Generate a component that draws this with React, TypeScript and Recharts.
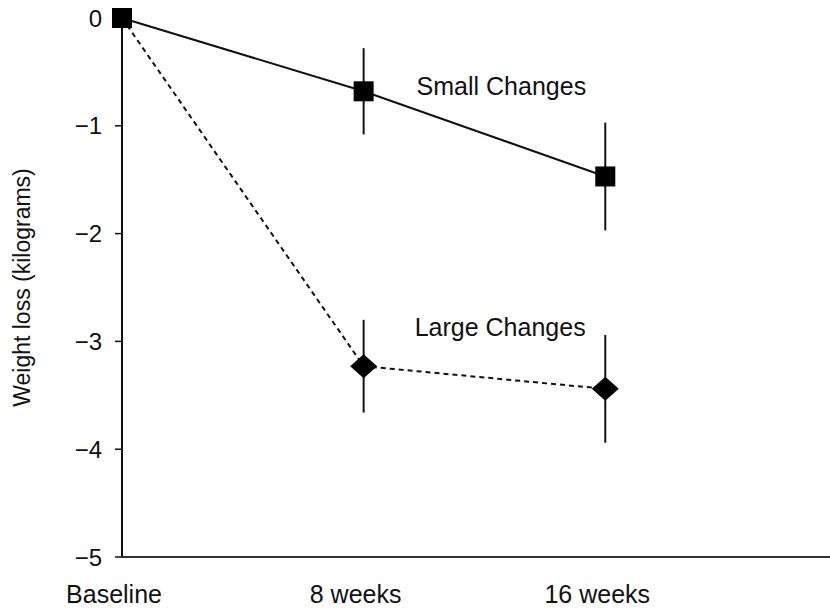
import React from "react";
import {
  LineChart,
  Line,
  XAxis,
  YAxis,
  ErrorBar,
  ReferenceDot,
} from "recharts";

// time points
const categories = ["Baseline", "8 weeks", "16 weeks"];

// mean weight change (kg) and error half-widths
const smallChanges = [0, -0.68, -1.47];
const smallErr = [0, 0.4, 0.5];
const largeChanges = [0, -3.23, -3.44];
const largeErr = [0, 0.43, 0.5];

const yTicks = [0, -1, -2, -3, -4, -5];

// text annotations next to the lines
const notes = [
  { text: "Small Changes", x: 1.57, y: -0.635 },
  { text: "Large Changes", x: 1.565, y: -2.87 },
];

const data = categories.map((name, i) => ({
  x: i,
  name,
  small: smallChanges[i],
  smallErr: smallErr[i],
  large: largeChanges[i],
  largeErr: largeErr[i],
}));

const FONT = '"Liberation Sans", Arial, Helvetica, sans-serif';

const SquareDot = (props: any) => {
  const { cx, cy, index } = props;
  if (cx == null || cy == null) return <g key={`sq-${index}`} />;
  return (
    <rect
      key={`sq-${index}`}
      x={cx - 10}
      y={cy - 10}
      width={20}
      height={20}
      fill="#000"
    />
  );
};

const DiamondDot = (props: any) => {
  const { cx, cy, index } = props;
  // baseline point is hidden under the square
  if (cx == null || cy == null || index === 0) return <g key={`dm-${index}`} />;
  return (
    <path
      key={`dm-${index}`}
      d={`M${cx - 13.5},${cy} L${cx},${cy - 12} L${cx + 13.5},${cy} L${cx},${cy + 12} Z`}
      fill="#000"
    />
  );
};

const fmtY = (v: number) => (v === 0 ? "0" : "\u2212" + Math.abs(v));

export default function App() {
  return (
    <div style={{ position: "absolute", left: 0, top: 0, background: "#fff" }}>
      <LineChart
        width={830}
        height={615}
        data={data}
        margin={{ top: 18, right: 0, left: 0, bottom: 0 }}
        style={{ fontFamily: FONT }}
      >
        <XAxis
          dataKey="x"
          type="number"
          domain={[0, 2.93]}
          ticks={[0, 1, 2]}
          interval={0}
          tickFormatter={(v: number) => categories[v] ?? ""}
          height={58}
          tickLine={false}
          tickSize={0}
          tickMargin={28}
          axisLine={{ stroke: "#333", strokeWidth: 2 }}
          tick={{ fill: "#111", fontSize: 25, dx: -8 }}
        />
        <YAxis
          type="number"
          domain={[-5, 0]}
          ticks={yTicks}
          interval={0}
          width={122}
          tickFormatter={fmtY}
          tickSize={7}
          tickMargin={13}
          axisLine={{ stroke: "#111", strokeWidth: 2 }}
          tickLine={{ stroke: "#111", strokeWidth: 1.5 }}
          tick={{ fill: "#111", fontSize: 24 }}
          label={{
            value: "Weight loss (kilograms)",
            angle: -90,
            position: "center",
            dx: -39,
            fill: "#111",
            fontSize: 23,
          }}
        />
        <Line
          dataKey="large"
          stroke="#111"
          strokeWidth={2}
          strokeDasharray="5 4"
          dot={DiamondDot}
          activeDot={false}
          isAnimationActive={false}
        >
          <ErrorBar
            dataKey="largeErr"
            direction="y"
            width={0}
            stroke="#111"
            strokeWidth={2}
            isAnimationActive={false}
          />
        </Line>
        <Line
          dataKey="small"
          stroke="#111"
          strokeWidth={2}
          dot={SquareDot}
          activeDot={false}
          isAnimationActive={false}
        >
          <ErrorBar
            dataKey="smallErr"
            direction="y"
            width={0}
            stroke="#111"
            strokeWidth={2}
            isAnimationActive={false}
          />
        </Line>
        {notes.map((n) => (
          <ReferenceDot
            key={n.text}
            x={n.x}
            y={n.y}
            r={0}
            stroke="none"
            fill="none"
            ifOverflow="visible"
            label={{ value: n.text, position: "center", fill: "#111", fontSize: 25 }}
          />
        ))}
      </LineChart>
    </div>
  );
}
